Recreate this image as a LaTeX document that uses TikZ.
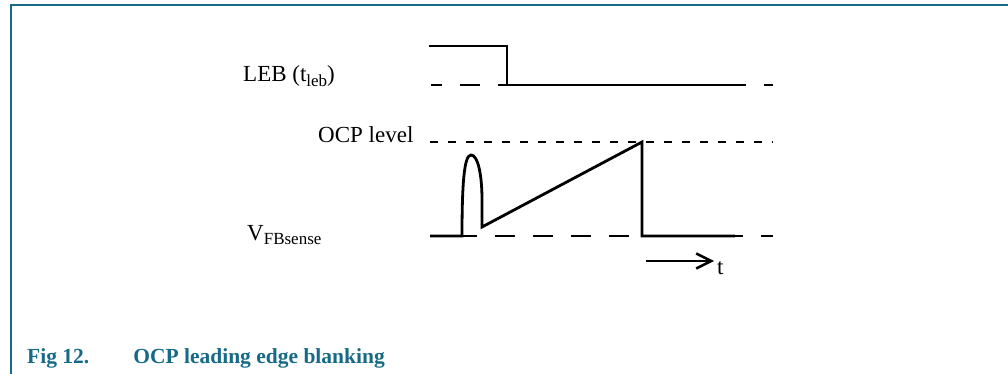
\documentclass[tikz,border=0pt]{standalone}
\usepackage{fontspec}
\setmainfont{Liberation Serif}
\usetikzlibrary{arrows.meta}
\definecolor{capteal}{RGB}{22,106,135}
\newcommand{\sbx}[1]{\raisebox{-4.5pt}{\fontsize{17}{17}\selectfont #1}}
\tikzset{
  sig/.style={line width=2.8pt, line join=miter},
  refline/.style={line width=2pt},
  lbl/.style={inner sep=0pt, anchor=base west, font=\fontsize{23}{27}\selectfont},
  frame/.style={capteal, line width=1.5pt}
}
\begin{document}
\begin{tikzpicture}[x=1pt,y=-1pt]
\useasboundingbox (0,0) rectangle (1008,374);
% frame
\draw[frame] (11,374) -- (11,5) -- (1008,5);
% labels
\node[lbl] (leb) at (243,82) {LEB (t\sbx{leb})};
\node[lbl] (ocp) at (318,143) {OCP level};
\node[lbl] (vfb) at (247,240) {V\sbx{FBsense}};
% reference dashed lines
\coordinate (lebA) at (431,85);
\coordinate (lebB) at (773,85);
\coordinate (ocpA) at (430,142);
\coordinate (ocpB) at (773,142);
\coordinate (botA) at (433,236);
\coordinate (botB) at (773,236);
\draw[refline, dash pattern=on 20pt off 18pt, dash phase=9pt] (lebA) -- (lebB);
\draw[refline, dash pattern=on 8pt off 10pt] (ocpA) -- (ocpB);
\draw[refline, dash pattern=on 20pt off 18pt, dash phase=14pt] (botA) -- (botB);
% LEB signal
\draw[sig] (429,46) -- (507,46) -- (507,85) -- (735,85);
% VFBsense signal
\draw[sig] (430,236) -- (462,236)
  .. controls (462,185) and (464,155) .. (471,155)
  .. controls (478,155) and (482,175) .. (482,200)
  -- (482,227) -- (642,142) -- (642,236) -- (735,236);
% time arrow
\coordinate (tA) at (646,261);
\coordinate (tB) at (714,261);
\draw[line width=2.5pt, -{Straight Barb[length=15pt,width=15pt,line width=2.5pt]}] (tA) -- (tB);
\node[lbl] (t) at (717,274) {t};
% caption
\node[inner sep=0pt, anchor=base west, text=capteal, font=\fontsize{21.5}{26}\selectfont\bfseries] (cap) at (27,363) {Fig 12.\hspace{44pt}OCP leading edge blanking};
\end{tikzpicture}
\end{document}
